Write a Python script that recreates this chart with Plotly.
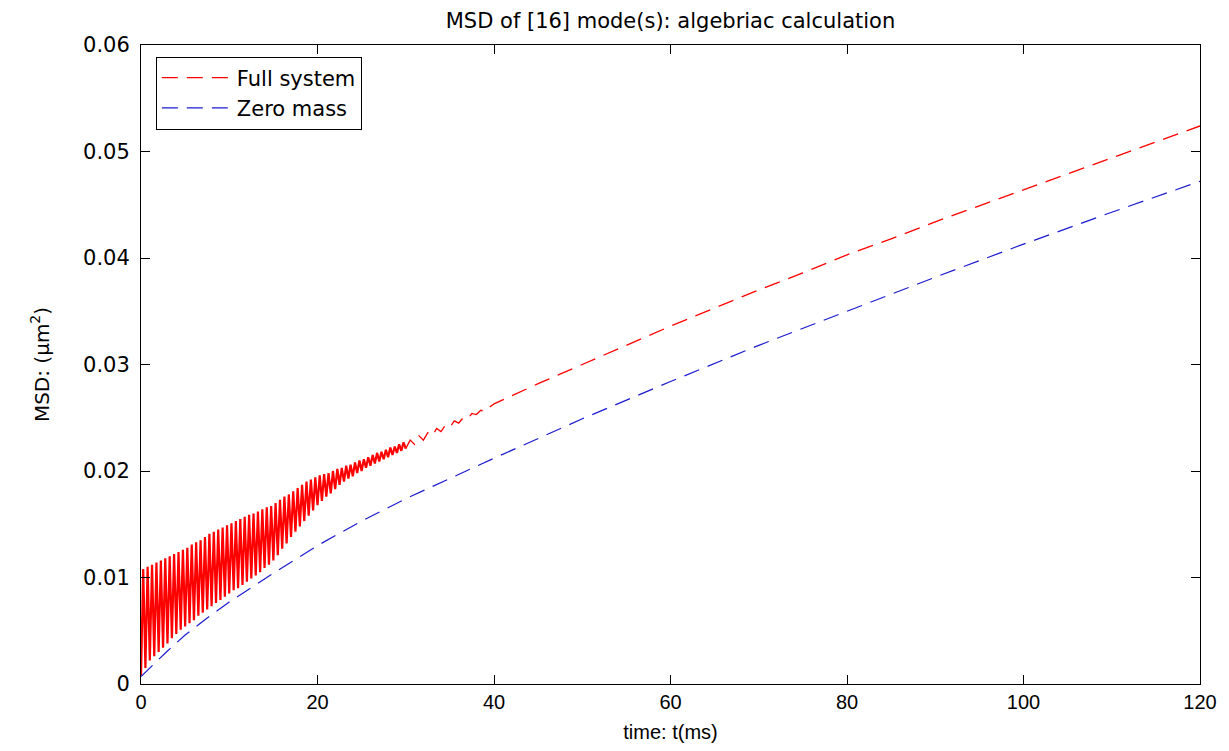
import plotly.graph_objects as go

# Full system (red), early oscillating part: time (ms) and MSD
t_full_osc = [
    0.0, 0.25, 0.5, 0.75, 1.0, 1.25, 1.5, 1.75, 2.0, 2.25, 2.5, 2.75, 3.0, 3.25, 3.5, 3.75,
    4.0, 4.25, 4.5, 4.75, 5.0, 5.25, 5.5, 5.75, 6.0, 6.25, 6.5, 6.75, 7.0, 7.25, 7.5, 7.75,
    8.0, 8.25, 8.5, 8.75, 9.0, 9.25, 9.5, 9.75, 10.0, 10.25, 10.5, 10.75, 11.0, 11.25, 11.5,
    11.75, 12.0, 12.25, 12.5, 12.75, 13.0, 13.25, 13.5, 13.75, 14.0, 14.25, 14.5, 14.75,
    15.0, 15.25, 15.5, 15.75, 16.0, 16.25, 16.5, 16.75, 17.0, 17.25, 17.5, 17.75, 18.0,
    18.25, 18.5, 18.75, 19.0, 19.25, 19.5, 19.75, 20.0, 20.25, 20.5, 20.75, 21.0, 21.25,
    21.5, 21.75, 22.0, 22.25, 22.5, 22.75, 23.0, 23.25, 23.5, 23.75, 24.0, 24.25, 24.5,
    24.75, 25.0, 25.25, 25.5, 25.75, 26.0, 26.25, 26.5, 26.75, 27.0, 27.25, 27.5, 27.75,
    28.0, 28.25, 28.5, 28.75, 29.0, 29.25, 29.5, 29.75, 30.0,
]
msd_full_osc = [
    0.0008, 0.0108, 0.0015, 0.0110, 0.0022, 0.0112, 0.0026, 0.0114, 0.0030, 0.0116,
    0.0034, 0.0118, 0.0038, 0.0120, 0.0043, 0.0122, 0.0047, 0.0124, 0.0051, 0.0126,
    0.0054, 0.0128, 0.0057, 0.0131, 0.0060, 0.0133, 0.0064, 0.0135, 0.0067, 0.0138,
    0.0070, 0.0141, 0.0073, 0.0143, 0.0076, 0.0145, 0.0079, 0.0147, 0.0082, 0.0149,
    0.0085, 0.0151, 0.0088, 0.0153, 0.0090, 0.0155, 0.0093, 0.0157, 0.0096, 0.0159,
    0.0099, 0.0160, 0.0102, 0.0162, 0.0105, 0.0164, 0.0109, 0.0166, 0.0112, 0.0167,
    0.0116, 0.0170, 0.0121, 0.0173, 0.0127, 0.0176, 0.0132, 0.0178, 0.0138, 0.0181,
    0.0143, 0.0184, 0.0148, 0.0187, 0.0153, 0.0190, 0.0158, 0.0192, 0.0163, 0.0194,
    0.0168, 0.0196, 0.0172, 0.0197, 0.0176, 0.0198, 0.0179, 0.0200, 0.0183, 0.0202,
    0.0187, 0.0203, 0.0190, 0.0205, 0.0193, 0.0206, 0.0195, 0.0208, 0.0198, 0.0210,
    0.0200, 0.0211, 0.0203, 0.0213, 0.0205, 0.0215, 0.0207, 0.0217, 0.0209, 0.0218,
    0.0211, 0.0220, 0.0213, 0.0222, 0.0215, 0.0223, 0.0217, 0.0225, 0.0219, 0.0227,
    0.0221,
]

# Full system (red), later part
t_full_tail = [
    30.5, 31.0, 31.5, 32.0, 32.5, 33.0, 33.5, 34.0, 34.5, 35.0, 35.5, 36.0, 36.5, 37.0,
    37.5, 38.0, 38.5, 39.0, 39.5, 40.0,
    45, 50, 55, 60, 65, 70, 75, 80, 85, 90, 95, 100, 105, 110, 115, 120,
]
msd_full_tail = [
    0.0229, 0.0225, 0.0233, 0.0229, 0.0236, 0.0233, 0.0240, 0.0237, 0.0243, 0.0241,
    0.0247, 0.0245, 0.0250, 0.0249, 0.0254, 0.0253, 0.0257, 0.0256, 0.0260, 0.0263,
    0.0282, 0.0300, 0.0318, 0.0336, 0.0353, 0.0370, 0.0386, 0.0403, 0.0418, 0.0434,
    0.0449, 0.0464, 0.0479, 0.0494, 0.0509, 0.0524,
]

# Zero mass (blue)
t_zero = [0, 1, 2, 3, 5, 7.5, 10, 15, 20, 25, 30, 35, 40, 50, 60, 70, 80, 90, 100, 110, 120]
msd_zero = [0.0007, 0.0015, 0.0023, 0.0031, 0.0046, 0.0062, 0.0077, 0.0104, 0.0130,
            0.0153, 0.0174, 0.0193, 0.0212, 0.0249, 0.0284, 0.0318, 0.0350, 0.0382,
            0.0413, 0.0443, 0.0472]

x_ticks = [0, 20, 40, 60, 80, 100, 120]
y_ticks = [0, 0.01, 0.02, 0.03, 0.04, 0.05, 0.06]
y_tick_text = ["0", "0.01", "0.02", "0.03", "0.04", "0.05", "0.06"]

RED = "#ff0000"
BLUE = "#1a1ad0"
DASH = "16px,9px"

fig = go.Figure()
fig.add_trace(go.Scatter(x=t_full_osc, y=msd_full_osc, mode="lines", name="Full system",
                         showlegend=False, legendgroup="full",
                         line=dict(color=RED, width=2.2)))
fig.add_trace(go.Scatter(x=t_full_osc[-1:] + t_full_tail, y=msd_full_osc[-1:] + msd_full_tail,
                         mode="lines", name="Full system", legendgroup="full",
                         line=dict(color=RED, width=1.3, dash=DASH)))
fig.add_trace(go.Scatter(x=t_zero, y=msd_zero, mode="lines", name="Zero mass",
                         line=dict(color=BLUE, width=1.2, dash=DASH)))

fig.update_layout(
    width=1229, height=751,
    margin=dict(l=141, r=29, t=45, b=64),
    paper_bgcolor="white", plot_bgcolor="white",
    title=dict(text="MSD of [16] mode(s): algebriac calculation",
               x=(141 + 1200) / 2 / 1229, xanchor="center", y=1 - 21 / 751, yanchor="middle",
               font=dict(family="DejaVu Sans", size=21, color="black")),
    showlegend=True,
    legend=dict(x=0.014, y=0.982, xanchor="left", yanchor="top",
                bgcolor="white", bordercolor="black", borderwidth=1,
                font=dict(family="DejaVu Sans", size=21, color="black"),
                itemwidth=70, tracegroupgap=0),
    font=dict(family="DejaVu Sans", color="black"),
)
fig.update_xaxes(range=[0, 120], tickvals=x_ticks, ticks="inside", ticklen=9,
                 tickcolor="black", showline=True, linecolor="black", linewidth=1,
                 mirror="ticks", showgrid=False, zeroline=False,
                 tickfont=dict(family="Liberation Sans Narrow, Arial Narrow, Liberation Sans", size=20),
                 title=dict(text="time: t(ms)", standoff=12,
                            font=dict(family="Liberation Sans Narrow, Arial Narrow, Liberation Sans", size=20)))
fig.update_yaxes(range=[0, 0.06], tickvals=y_ticks, ticktext=y_tick_text, ticks="inside",
                 ticklen=9, tickcolor="black", showline=True, linecolor="black", linewidth=1,
                 mirror="ticks", showgrid=False, zeroline=False, ticklabelstandoff=6,
                 tickfont=dict(family="DejaVu Sans", size=21),
                 title=dict(text="MSD: (μm<sup>2</sup>)", standoff=28,
                            font=dict(family="DejaVu Sans", size=20)))

fig.write_html("out.html")
